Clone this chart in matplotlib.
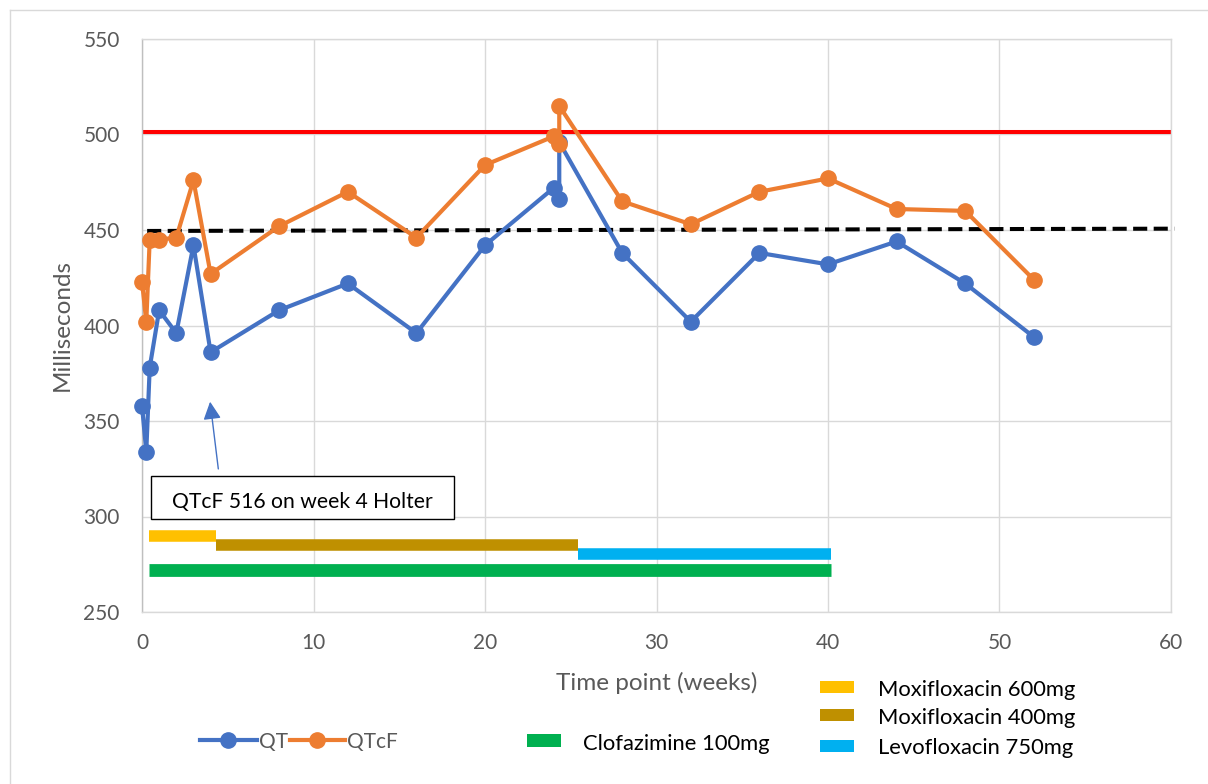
import matplotlib
matplotlib.use("Agg")
import matplotlib.pyplot as plt
from matplotlib.lines import Line2D
from matplotlib.patches import Rectangle

# ---------------- data ----------------
weeks = [0, 0.25, 0.45, 1, 2, 3, 4, 8, 12, 16, 20, 24, 24.33, 24.33, 28, 32, 36, 40, 44, 48, 52]
qt = [358, 334, 378, 408, 396, 442, 386, 408, 422, 396, 442, 472, 466, 496, 438, 402, 438, 432, 444, 422, 394]
qtcf = [423, 402, 445, 445, 446, 476, 427, 452, 470, 446, 484, 499, 495, 515, 465, 453, 470, 477, 461, 460, 424]

red_x = [0, 60]
red_y = [501.3, 501.3]
dash_x = [0.3, 60.2]
dash_y = [449.5, 450.7]

drug_names = ["Moxifloxacin 600mg", "Moxifloxacin 400mg", "Levofloxacin 750mg", "Clofazimine 100mg"]
drug_start = [0.4, 4.3, 25.4, 0.4]
drug_end = [4.3, 25.4, 40.2, 40.2]
drug_level = [290, 285, 280.5, 272]
drug_colors = ["#FFC000", "#BF9000", "#00B0F0", "#00B050"]
drug_width = [8.3, 8.3, 8.3, 9.2]

x_ticks = [0, 10, 20, 30, 40, 50, 60]
y_ticks = [250, 300, 350, 400, 450, 500, 550]

annot_text = "QTcF 516 on week 4 Holter"

# ---------------- figure ----------------
W, H, DPI = 1208, 784, 100
plt.rcParams["font.family"] = ["Lato", "DejaVu Sans"]
fig = plt.figure(figsize=(W / DPI, H / DPI), dpi=DPI)
fig.patch.set_facecolor("white")

def fx(x):
    return x / W

def fy(y):
    return 1 - y / H

GRAY = "#595959"
GRID = "#D9D9D9"

ax = fig.add_axes([fx(142), fy(612), (1171 - 142) / W, (612 - 39) / H])
ax.set_xlim(0, 60)
ax.set_ylim(250, 550)
ax.set_xticks(x_ticks)
ax.set_yticks(y_ticks)
ax.grid(True, color=GRID, lw=1.0, zorder=0)
ax.set_axisbelow(True)
for s in ax.spines.values():
    s.set_color(GRID)
    s.set_linewidth(1.0)
ax.spines["left"].set_color("#BFBFBF")
ax.tick_params(length=0, labelsize=15, labelcolor=GRAY)
ax.tick_params(axis="x", pad=15)
ax.tick_params(axis="y", pad=16)

# drug bars
for s_, e_, lv, c, w in zip(drug_start, drug_end, drug_level, drug_colors, drug_width):
    ax.plot([s_, e_], [lv, lv], color=c, lw=w, solid_capstyle="butt", zorder=2)

# reference lines
ax.plot(red_x, red_y, color="#FF0000", lw=2.9, zorder=2, solid_capstyle="butt")
ax.plot(dash_x, dash_y, color="black", lw=2.9, dashes=(3.5, 1.6), zorder=2, clip_on=False)

# series
ax.plot(weeks, qt, color="#4472C4", lw=3, marker="o", ms=11, zorder=3, clip_on=False)
ax.plot(weeks, qtcf, color="#ED7D31", lw=3, marker="o", ms=11, zorder=4, clip_on=False)

# annotation box + arrow
ax.add_patch(Rectangle((0.52, 298.7), 18.2 - 0.52, 321.2 - 298.7, facecolor="white",
                       edgecolor="black", lw=1.0, zorder=5))
ax.text(9.33, 307.8, annot_text, ha="center", va="center", fontsize=15.2, color="black", zorder=6)
ax.annotate("", xy=(3.97, 360.1), xytext=(4.45, 324.9),
            arrowprops=dict(arrowstyle="-|>,head_length=0.4,head_width=0.2", color="#4472C4",
                            lw=1.0, mutation_scale=27, shrinkA=0, shrinkB=0), zorder=6)

# axis titles
fig.text(fx(657), fy(690), "Time point (weeks)", ha="center", va="baseline", fontsize=17.5, color=GRAY)
fig.text(fx(62), fy(325), "Milliseconds", ha="center", va="center", rotation=90, fontsize=17.5, color=GRAY)

# legend: QT / QTcF
for (x0, x1, xm, xt, c, lab) in [(200, 257, 228, 259, "#4472C4", "QT"),
                                 (290, 345, 317, 347, "#ED7D31", "QTcF")]:
    fig.add_artist(Line2D([fx(x0), fx(x1)], [fy(740), fy(740)], color=c, lw=3,
                          transform=fig.transFigure))
    fig.add_artist(Line2D([fx(xm)], [fy(740)], color=c, marker="o", ms=11, lw=0,
                          transform=fig.transFigure))
    fig.text(fx(xt), fy(748), lab, ha="left", va="baseline", fontsize=15, color=GRAY)

# legend: drugs
leg_pos = {
    "Moxifloxacin 600mg": (820, 687, 878, 696.5),
    "Moxifloxacin 400mg": (820, 715, 878, 724.5),
    "Levofloxacin 750mg": (820, 746, 878, 753.5),
    "Clofazimine 100mg": (527, 740, 583, 749.5),
}
for name, c in zip(drug_names, drug_colors):
    px, pyc, tx, ty = leg_pos[name]
    hgt = 13 if name.startswith("Clof") else 12
    fig.add_artist(Rectangle((fx(px), fy(pyc + hgt / 2)), 34 / W, hgt / H, facecolor=c,
                             edgecolor="none", transform=fig.transFigure))
    fig.text(fx(tx), fy(ty), name, ha="left", va="baseline", fontsize=15.8, color="black")

# outer chart border (top/left visible)
fig.add_artist(Line2D([fx(9.5), fx(9.5)], [fy(9.5), 0], color=GRID, lw=1.0, transform=fig.transFigure))
fig.add_artist(Line2D([fx(9.5), 1], [fy(9.5), fy(9.5)], color=GRID, lw=1.0, transform=fig.transFigure))

fig.savefig("out.png", dpi=DPI)
